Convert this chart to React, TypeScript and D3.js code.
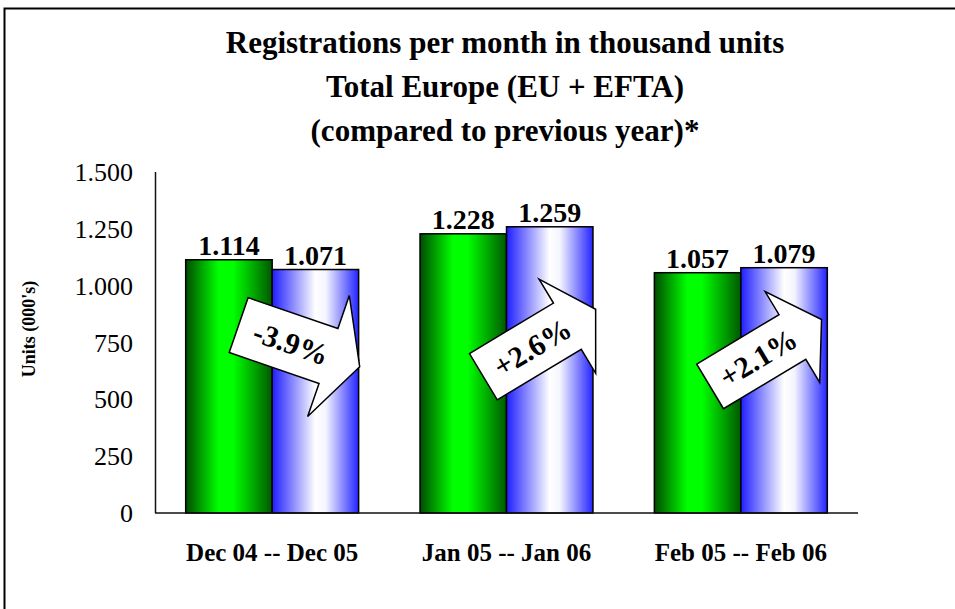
import React from 'react';
import * as d3 from 'd3';

const categories = ['Dec 04 -- Dec 05', 'Jan 05 -- Jan 06', 'Feb 05 -- Feb 06'];
const previousYear = [1114, 1228, 1057];
const currentYear = [1071, 1259, 1079];
const changeLabels = ['-3.9%', '+2.6%', '+2.1%'];
const yTicks = [0, 250, 500, 750, 1000, 1250, 1500];
const titleLines = [
  'Registrations per month in thousand units',
  'Total Europe (EU + EFTA)',
  '(compared to previous year)*',
];

// arrow call-out shapes (layout only): offset from category centre, anchor value, rotation, sizes
const arrowLayout = [
  { dx: 27, at: 735, angle: 19, len: 128, shaft: 95, sw: 29, hw: 64 },
  { dx: 33, at: 748, angle: -31, len: 131, shaft: 98, sw: 27, hw: 55 },
  { dx: 25, at: 704, angle: -31, len: 130, shaft: 96, sw: 26, hw: 53 },
];

const W = 955;
const H = 609;
const font = '"Liberation Serif", "Times New Roman", serif';

const fmt = d3
  .formatLocale({ decimal: ',', thousands: '.', grouping: [3], currency: ['', ''] })
  .format(',d');

const x = d3.scaleBand().domain(categories).range([155, 858]).paddingInner(0.262).paddingOuter(0.131);
const y = d3.scaleLinear().domain([0, 1500]).range([513, 172]);

const arrowPath = (a) => {
  const l = -a.len / 2;
  const j = l + a.shaft;
  const pts = [
    [l, -a.sw], [j, -a.sw], [j, -a.hw], [a.len / 2, 0],
    [j, a.hw], [j, a.sw], [l, a.sw],
  ];
  return d3.line()(pts) + 'Z';
};

const App = () => {
  const bw = x.bandwidth() / 2;
  return (
    <svg width={W} height={H} style={{ position: 'absolute', left: 0, top: 0, background: '#fff' }}>
      <defs>
        <linearGradient id="gGreen" x1="0" x2="1" y1="0" y2="0">
          <stop offset="0" stopColor="#004c00" />
          <stop offset="0.38" stopColor="#00ff00" />
          <stop offset="0.55" stopColor="#00ff00" />
          <stop offset="1" stopColor="#005800" />
        </linearGradient>
        <linearGradient id="gBlue" x1="0" x2="1" y1="0" y2="0">
          <stop offset="0" stopColor="#1e1eff" />
          <stop offset="0.5" stopColor="#ffffff" />
          <stop offset="0.62" stopColor="#f4f4ff" />
          <stop offset="1" stopColor="#2424ff" />
        </linearGradient>
      </defs>

      <rect x={4.5} y={8.5} width={W + 10} height={H + 10} fill="none" stroke="#000" strokeWidth={2} />

      {titleLines.map((t, i) => (
        <text key={t} x={505} y={53 + i * 44} textAnchor="middle" fontFamily={font}
          fontWeight="bold" fontSize={31}>{t}</text>
      ))}

      {yTicks.map((t) => (
        <text key={t} x={133} y={y(t)} dy="0.35em" textAnchor="end" fontFamily={font} fontSize={26}>{fmt(t)}</text>
      ))}

      <text transform="translate(35,329) rotate(-90)" textAnchor="middle" fontFamily={font}
        fontWeight="bold" fontSize={18}>Units (000's)</text>

      {categories.map((c, i) => {
        const x0 = x(c);
        const vals = [previousYear[i], currentYear[i]];
        return (
          <g key={c}>
            {vals.map((v, k) => (
              <g key={k}>
                <rect x={x0 + k * bw} y={y(v)} width={bw} height={y(0) - y(v)}
                  fill={k === 0 ? 'url(#gGreen)' : 'url(#gBlue)'} stroke="#000" strokeWidth={1.5} />
                <text x={x0 + k * bw + bw / 2} y={y(v) - 5} textAnchor="middle" fontFamily={font}
                  fontWeight="bold" fontSize={28}>{fmt(v)}</text>
              </g>
            ))}
            <text x={x0 + x.bandwidth() / 2} y={561} textAnchor="middle" fontFamily={font}
              fontWeight="bold" fontSize={25}>{c}</text>
          </g>
        );
      })}

      <line x1={155.5} x2={155.5} y1={172} y2={513} stroke="#111" strokeWidth={1.5} />
      <line x1={155} x2={858} y1={513} y2={513} stroke="#111" strokeWidth={1.5} />

      {categories.map((c, i) => {
        const a = arrowLayout[i];
        const cx = x(c) + x.bandwidth() / 2 + a.dx;
        const cy = y(a.at);
        return (
          <g key={c} transform={`translate(${cx},${cy}) rotate(${a.angle})`}>
            <path d={arrowPath(a)} fill="#fff" stroke="#000" strokeWidth={1.5} strokeLinejoin="miter" />
            <text x={-a.len / 2 + a.shaft / 2 + 8} y={0} dy="0.35em" textAnchor="middle" fontFamily={font}
              fontWeight="bold" fontSize={30}>{changeLabels[i]}</text>
          </g>
        );
      })}
    </svg>
  );
};

export default App;
